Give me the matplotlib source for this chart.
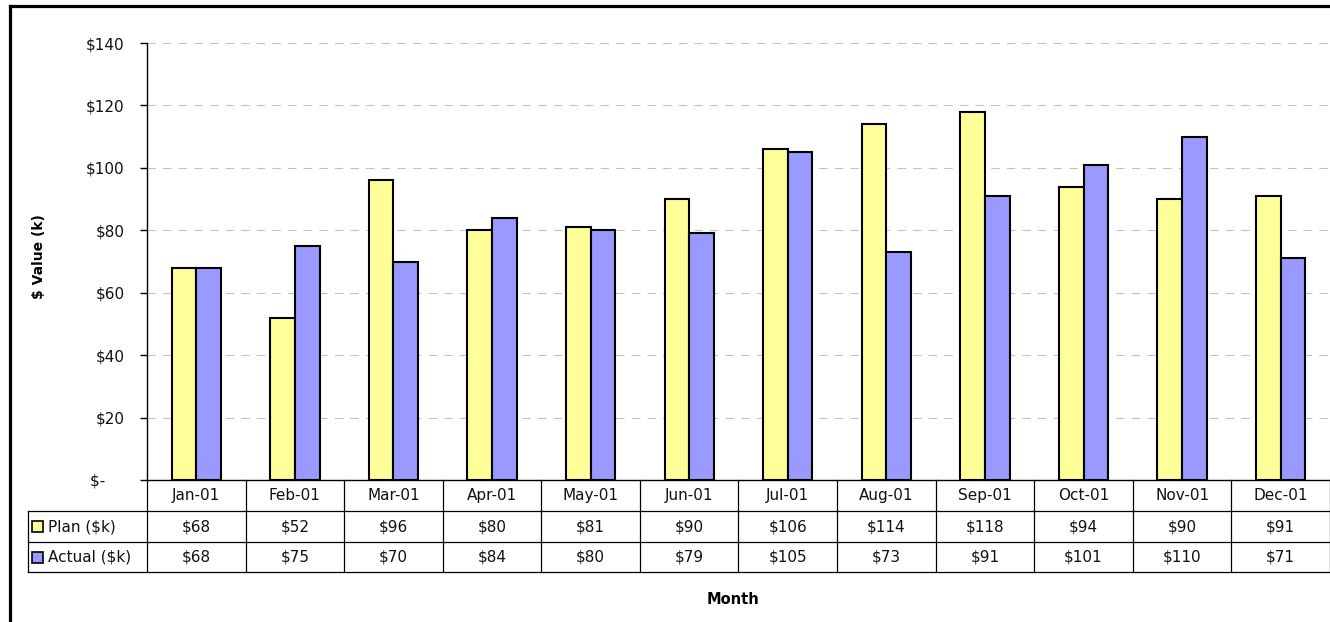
import matplotlib.pyplot as plt
from matplotlib.lines import Line2D
from matplotlib.patches import Rectangle
from matplotlib.transforms import blended_transform_factory
import numpy as np

months = ["Jan-01", "Feb-01", "Mar-01", "Apr-01", "May-01", "Jun-01",
          "Jul-01", "Aug-01", "Sep-01", "Oct-01", "Nov-01", "Dec-01"]
plan = [68, 52, 96, 80, 81, 90, 106, 114, 118, 94, 90, 91]
actual = [68, 75, 70, 84, 80, 79, 105, 73, 91, 101, 110, 71]
series_names = ["Plan ($k)", "Actual ($k)"]
y_ticks = [0, 20, 40, 60, 80, 100, 120, 140]

PLAN_COLOR = "#FFFF99"
ACTUAL_COLOR = "#9999FF"
FS = 11

plt.rcParams["font.family"] = "DejaVu Sans"

W, H = 1330, 622
fig = plt.figure(figsize=(W / 100, H / 100), dpi=100)


def fx(px):
    return px / W


def fy(py):
    return 1 - py / H


# plot area in pixel terms
left, right, top, bottom = 147, 1330, 43, 480
ax = fig.add_axes([fx(left), fy(bottom), fx(right - left), (bottom - top) / H])

x = np.arange(len(months))
bw = 0.25
ax.bar(x - bw / 2, plan, width=bw, color=PLAN_COLOR, edgecolor="black", linewidth=1.5, zorder=3)
ax.bar(x + bw / 2, actual, width=bw, color=ACTUAL_COLOR, edgecolor="black", linewidth=1.5, zorder=3)

ax.set_xlim(-0.5, len(months) - 0.5)
ax.set_ylim(0, 140)
ax.set_yticks(y_ticks)
# accounting-style zero: "$-" sits left of the number column
ax.set_yticklabels([f"${v}" if v else "$-    " for v in y_ticks], fontsize=FS, color="#111111")
ax.tick_params(axis="y", length=5, width=1, pad=11)
ax.set_xticks([])
ax.yaxis.grid(True, color="#c0c0c0", linewidth=0.75, linestyle=(0, (8, 7)), zorder=0)
ax.set_axisbelow(True)
for side in ["top", "right"]:
    ax.spines[side].set_visible(False)
ax.spines["left"].set_linewidth(1)
ax.spines["bottom"].set_linewidth(1)

# data table under the axis: header row + one row per series
row_edges = [480, 511, 542, 572]
tr = blended_transform_factory(ax.transData, fig.transFigure)
line_kw = dict(color="black", linewidth=0.9, clip_on=False)

for i in range(len(months) + 1):
    ax.add_line(Line2D([i - 0.5, i - 0.5], [fy(row_edges[0]), fy(row_edges[-1])], transform=tr, **line_kw))
for ry in row_edges[1:]:
    fig.add_artist(Line2D([fx(28), 1], [fy(ry), fy(ry)], **line_kw))
fig.add_artist(Line2D([fx(28), fx(28)], [fy(row_edges[1]), fy(row_edges[-1])], **line_kw))

for i, m in enumerate(months):
    ax.text(i, fy((row_edges[0] + row_edges[1]) / 2), m, transform=tr,
            ha="center", va="center", fontsize=FS, color="#111111")

for r, (name, vals, col) in enumerate(zip(series_names, [plan, actual], [PLAN_COLOR, ACTUAL_COLOR])):
    cy = (row_edges[r + 1] + row_edges[r + 2]) / 2
    for i, v in enumerate(vals):
        ax.text(i, fy(cy), f"${v}", transform=tr,
                ha="center", va="center", fontsize=FS, color="#111111")
    fig.add_artist(Rectangle((fx(32), fy(cy + 5.5)), fx(11), 11 / H, facecolor=col,
                             edgecolor="black", linewidth=1.2))
    fig.text(fx(48), fy(cy), name, ha="left", va="center", fontsize=FS, color="#111111")

fig.text(fx(39), fy(257), "$ Value (k)", rotation=90, ha="center", va="center",
         fontsize=10, fontweight="bold")
fig.text(fx(733), fy(599), "Month", ha="center", va="center", fontsize=10.5, fontweight="bold")

# chart frame
fig.add_artist(Line2D([fx(10), fx(10)], [0, fy(6)], color="black", linewidth=2.3))
fig.add_artist(Line2D([fx(10), 1], [fy(6), fy(6)], color="black", linewidth=2.3))

fig.savefig("out.png", dpi=100)
